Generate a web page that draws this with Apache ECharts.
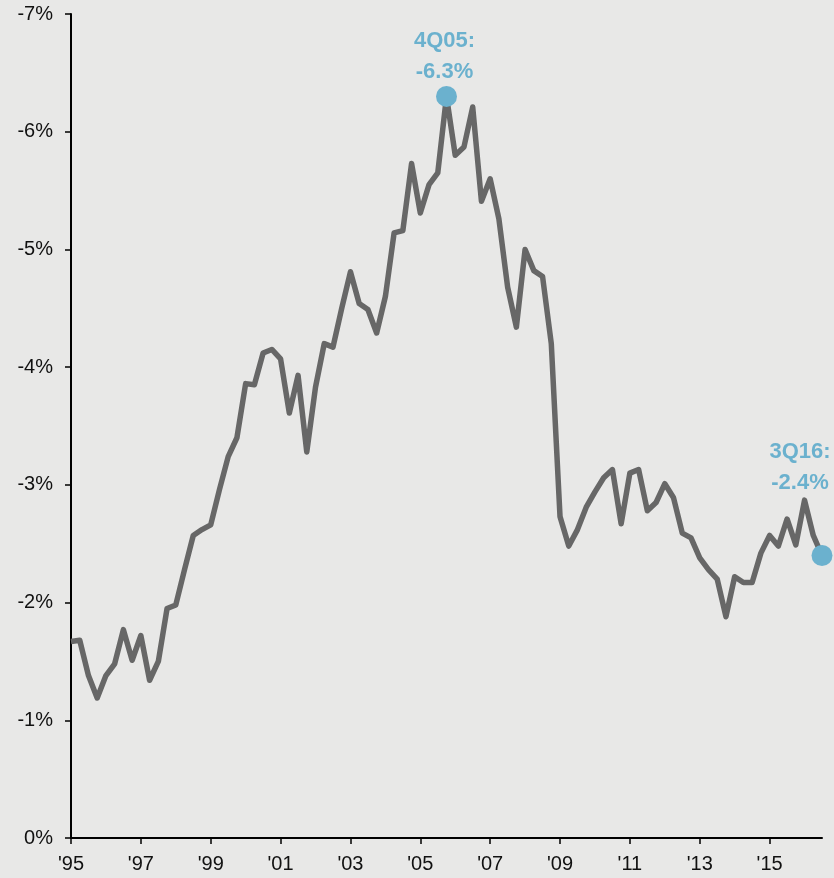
<!DOCTYPE html>
<html>
<head>
<meta charset="utf-8">
<style>
  html, body { margin: 0; padding: 0; background: #e8e8e7; }
  #chart { width: 834px; height: 878px; }
</style>
<script src="https://cdn.jsdelivr.net/npm/echarts@6/dist/echarts.min.js"></script>
</head>
<body>
<div id="chart"></div>
<script>
// Quarterly periods, 1Q95 through 3Q16
const startYear = 1995;
const quarterCount = 87;
const quarters = [];
for (let i = 0; i < quarterCount; i++) {
  const yr = startYear + Math.floor(i / 4);
  quarters.push((i % 4 + 1) + 'Q' + String(yr).slice(2));
}

// Balance, % (negative values plotted upward)
const balance = [
  -1.67, -1.68, -1.38, -1.19, -1.38, -1.48, -1.77, -1.51, -1.72, -1.34,
  -1.50, -1.95, -1.98, -2.28, -2.57, -2.62, -2.66, -2.96, -3.24, -3.40,
  -3.86, -3.85, -4.12, -4.15, -4.07, -3.61, -3.93, -3.28, -3.83, -4.20,
  -4.17, -4.50, -4.81, -4.54, -4.49, -4.29, -4.60, -5.14, -5.16, -5.73,
  -5.31, -5.55, -5.65, -6.30, -5.80, -5.87, -6.21, -5.41, -5.60, -5.26,
  -4.68, -4.34, -5.00, -4.82, -4.77, -4.20, -2.73, -2.48, -2.62, -2.81,
  -2.94, -3.06, -3.13, -2.67, -3.10, -3.13, -2.78, -2.85, -3.01, -2.89,
  -2.59, -2.55, -2.38, -2.28, -2.20, -1.88, -2.22, -2.17, -2.17, -2.42,
  -2.57, -2.48, -2.71, -2.49, -2.87, -2.57, -2.40
];

// Highlighted quarters: the trough and the latest reading
const highlightIdx = [43, 86];

const yTicks = { min: -7, max: 0, step: 1 };

const accent = '#6bb1ce';
const axisFont = 'Liberation Sans, Arial, sans-serif';

const chart = echarts.init(document.getElementById('chart'), null, { renderer: 'canvas' });

const highlightData = highlightIdx.map((i, k) => ({
  value: [i, balance[i]],
  label: k === 0
    ? { position: 'top', distance: 1, offset: [-2, 2] }
    : { position: 'top', distance: 47, offset: [-22, 0] }
}));

chart.setOption({
  backgroundColor: '#e8e8e7',
  animation: false,
  grid: { left: 71, right: 12, top: 14, bottom: 40, containLabel: false },
  xAxis: {
    type: 'category',
    data: quarters,
    boundaryGap: false,
    axisLine: { lineStyle: { color: '#000', width: 2 } },
    axisTick: {
      interval: (idx) => idx % 8 === 0,
      length: 6,
      lineStyle: { color: '#000', width: 1.5 }
    },
    axisLabel: {
      interval: (idx) => idx % 8 === 0,
      formatter: (v) => "'" + v.slice(2),
      color: '#111',
      fontFamily: axisFont,
      fontSize: 20,
      margin: 16
    },
    splitLine: { show: false }
  },
  yAxis: {
    type: 'value',
    inverse: true,
    min: yTicks.min,
    max: yTicks.max,
    interval: yTicks.step,
    axisLine: { show: true, lineStyle: { color: '#000', width: 2 } },
    axisTick: { show: true, length: 6, lineStyle: { color: '#000', width: 1.5 } },
    axisLabel: {
      formatter: (v) => (v === 0 ? '0' : v) + '%',
      color: '#111',
      fontFamily: axisFont,
      fontSize: 20,
      margin: 18
    },
    splitLine: { show: false }
  },
  series: [
    {
      type: 'line',
      data: balance,
      showSymbol: false,
      lineStyle: { color: '#676767', width: 5.5, join: 'round' },
      z: 2
    },
    {
      type: 'scatter',
      data: highlightData,
      symbolSize: 21,
      itemStyle: { color: accent, opacity: 1 },
      z: 3,
      label: {
        show: true,
        color: accent,
        fontFamily: axisFont,
        fontWeight: 'bold',
        fontSize: 22,
        lineHeight: 30.5,
        align: 'center',
        formatter: (p) => quarters[p.value[0]] + ':\n' + p.value[1].toFixed(1) + '%'
      }
    }
  ]
});
</script>
</body>
</html>
